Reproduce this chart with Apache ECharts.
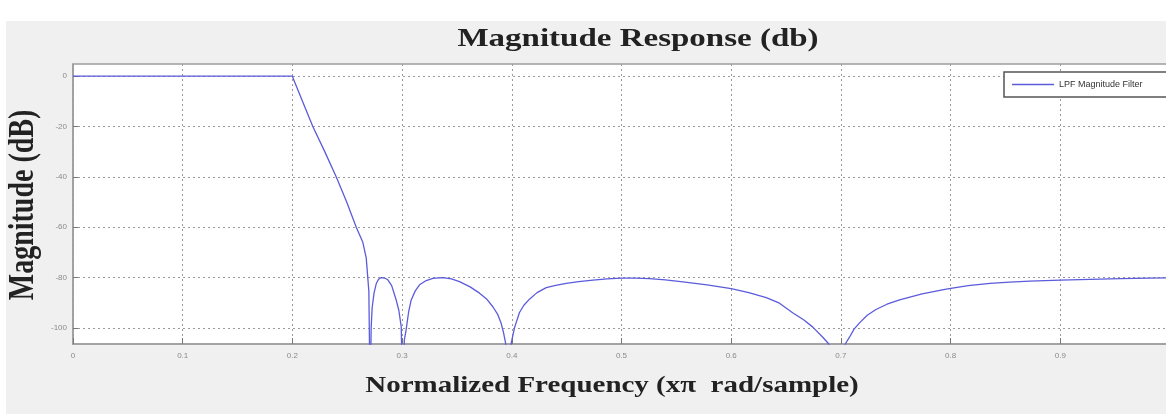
<!DOCTYPE html>
<html>
<head>
<meta charset="utf-8">
<script src="https://cdn.jsdelivr.net/npm/echarts@6/dist/echarts.min.js"></script>
<style>
  html, body { margin: 0; padding: 0; background: #fff; }
  #main { width: 1166px; height: 414px; }
</style>
</head>
<body>
<div id="main"></div>
<script>
// normalized frequency (x pi rad/sample)
var freq = [0, 0.1, 0.2, 0.2015, 0.209, 0.2186, 0.2295, 0.2399, 0.2495, 0.2582, 0.2642, 0.2673, 0.2697, 0.2709,
    0.2718, 0.2727, 0.2745, 0.2764, 0.2785, 0.281, 0.284, 0.287, 0.2905, 0.2946, 0.297, 0.2992, 0.3006,
    0.302, 0.3037, 0.306, 0.3083, 0.312, 0.3159, 0.322, 0.328, 0.3371, 0.345, 0.3523, 0.362, 0.3706,
    0.377, 0.3827, 0.387, 0.3903, 0.3925, 0.3943, 0.397,
    0.3995, 0.4025, 0.407, 0.411, 0.4161, 0.423, 0.4314, 0.44, 0.4496, 0.461, 0.474, 0.487, 0.4998,
    0.5125, 0.5255, 0.54, 0.556, 0.578, 0.6, 0.616, 0.632, 0.644, 0.656, 0.666, 0.6744, 0.6835, 0.689, 0.6965,
    0.704, 0.7078, 0.712, 0.717, 0.724, 0.732, 0.742, 0.7535, 0.774, 0.796, 0.816, 0.836, 0.854, 0.872,
    0.9, 0.927, 0.955, 0.981, 1.0];
// magnitude in dB (notches go below the axis and get clipped)
var magDb = [0, 0, 0, -1.8, -9.8, -20, -30, -40, -50, -60, -66, -72.2, -85.5, -130,
    -100, -92, -86, -82.5, -80.7, -80, -80.2, -80.9, -83.2, -88.9, -93, -99.5, -130,
    -105, -100.7, -93.5, -88.9, -85.3, -82.9, -81.2, -80.3, -80, -80.5, -81.6, -83.7, -86.2,
    -88.5, -91.6, -94.5, -98.2, -102, -106, -130,
    -106, -99.9, -93.9, -91, -88.6, -86, -84, -83.1, -82.3, -81.6, -81, -80.5, -80.2,
    -80.2, -80.4, -80.9, -81.7, -82.9, -84.4, -86, -88, -90.2, -94, -96.8, -99.7, -103.7, -106.4, -130,
    -106.4, -103.7, -100.5, -98, -95, -92.7, -90.6, -88.9, -86.5, -84.6, -83.2, -82.3, -81.8, -81.4,
    -81, -80.7, -80.4, -80.2, -80.1];

var yTicks = [-100, -80, -60, -40, -20, 0];

var lineData = [];
for (var i = 0; i < freq.length; i++) {
    lineData.push([freq[i], magDb[i]]);
}

var chart = echarts.init(document.getElementById('main'));

var serif = '"Liberation Serif", "DejaVu Serif", serif';
var gridLine = { type: [2, 3], color: '#9a9a9a', width: 1 };

var option = {
    backgroundColor: '#ffffff',
    animation: false,
    graphic: [
        { type: 'rect', z: -10, shape: { x: 6, y: 21, width: 1170, height: 400 }, style: { fill: '#f0f0f0' } },
        {   // title
            type: 'text', x: 638, y: 40, scaleX: 1.32,
            style: { text: 'Magnitude Response (db)', font: 'bold 25px ' + serif, fill: '#222',
                align: 'center', verticalAlign: 'middle' }
        },
        {   // x axis name
            type: 'text', x: 612, y: 386, scaleX: 1.26,
            style: { text: 'Normalized Frequency (x\u03C0  rad/sample)', font: 'bold 23px ' + serif, fill: '#222',
                align: 'center', verticalAlign: 'middle' }
        },
        {   // y axis name
            type: 'text', x: 24, y: 205, rotation: Math.PI / 2, scaleY: 1.3,
            style: { text: 'Magnitude (dB)', font: 'bold 28px ' + serif, fill: '#222',
                align: 'center', verticalAlign: 'middle' }
        }
    ],
    legend: {
        left: 1004,
        top: 72,
        orient: 'vertical',
        backgroundColor: '#fff',
        borderColor: '#555',
        borderWidth: 1.5,
        borderRadius: 0,
        padding: [8, 60, 8, 8],
        icon: 'rect',
        itemWidth: 42,
        itemHeight: 1.5,
        itemGap: 0,
        textStyle: { fontSize: 9, color: '#333', fontFamily: 'Arial, "Liberation Sans", sans-serif' },
        data: ['LPF Magnitude Filter']
    },
    grid: {
        show: true,
        left: 73,
        top: 64,
        width: 1097,
        height: 280,
        outerBoundsMode: 'none',
        containLabel: false,
        backgroundColor: '#ffffff',
        borderColor: '#9d9d9d',
        borderWidth: 1.5
    },
    xAxis: {
        type: 'value',
        min: 0,
        max: 1,
        interval: 0.1,
        axisLine: { show: true, onZero: false, lineStyle: { color: '#9d9d9d', width: 1.5 } },
        axisTick: { show: true, inside: true, length: 6, lineStyle: { color: '#777' } },
        axisLabel: {
            fontSize: 8, color: '#8a8a8a', margin: 8,
            formatter: function (v) {
                if (v === 0) return '0';
                if (v >= 1) return '';   // 1.0 falls off the cropped picture
                return v.toFixed(1);
            }
        },
        splitLine: { show: true, lineStyle: gridLine }
    },
    yAxis: {
        type: 'value',
        min: -106.4,
        max: 4.8,
        axisLine: { show: true, onZero: false, lineStyle: { color: '#9d9d9d', width: 1.5 } },
        axisTick: { show: true, inside: true, length: 5, customValues: yTicks, lineStyle: { color: '#777' } },
        axisLabel: { fontSize: 8, color: '#8a8a8a', margin: 6, customValues: yTicks },
        splitLine: { show: true, lineStyle: gridLine }
    },
    series: [
        {
            name: 'LPF Magnitude Filter',
            type: 'line',
            symbol: 'none',
            clip: true,
            data: lineData,
            lineStyle: { color: '#5b5bdc', width: 1.3 },
            itemStyle: { color: '#5b5bdc' }
        }
    ]
};

chart.setOption(option);
</script>
</body>
</html>
